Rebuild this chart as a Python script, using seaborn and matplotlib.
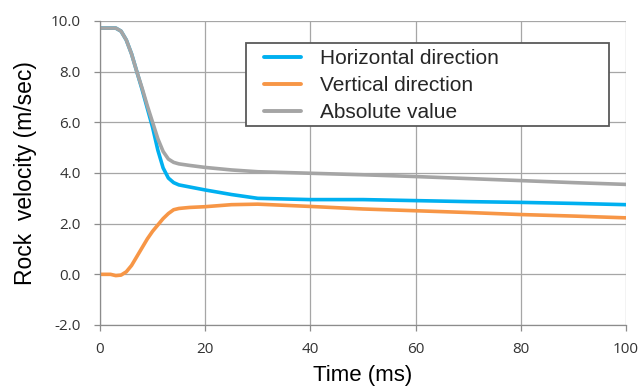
import matplotlib
matplotlib.use("Agg")
import matplotlib.pyplot as plt
from matplotlib.patches import Rectangle
import seaborn as sns
import pandas as pd

time_ms = [0, 2, 3, 4, 5, 6, 7, 8, 9, 10, 11, 12, 13, 14, 15, 17, 20, 25, 30, 40, 50, 60, 70, 80, 90, 100]
horizontal = [9.72, 9.72, 9.72, 9.6, 9.25, 8.7, 8.0, 7.3, 6.55, 5.8, 4.9, 4.2, 3.8, 3.62, 3.53, 3.45, 3.33, 3.15, 3.0, 2.95, 2.95, 2.91, 2.87, 2.84, 2.8, 2.75]
vertical = [0.0, 0.0, -0.05, -0.03, 0.1, 0.35, 0.7, 1.05, 1.4, 1.7, 1.95, 2.2, 2.4, 2.55, 2.6, 2.64, 2.67, 2.75, 2.77, 2.68, 2.58, 2.51, 2.44, 2.36, 2.3, 2.23]
absolute = [9.72, 9.72, 9.72, 9.6, 9.25, 8.7, 8.0, 7.35, 6.65, 6.0, 5.35, 4.85, 4.55, 4.42, 4.36, 4.3, 4.22, 4.12, 4.05, 3.99, 3.93, 3.86, 3.78, 3.70, 3.62, 3.55]
series_names = ["Horizontal direction", "Vertical direction", "Absolute value"]
colors = ["#00B0F0", "#F79646", "#A5A5A5"]
x_ticks = [0, 20, 40, 60, 80, 100]
y_ticks = [-2.0, 0.0, 2.0, 4.0, 6.0, 8.0, 10.0]

df = pd.concat([
    pd.DataFrame({"t": time_ms, "v": vals, "series": name})
    for name, vals in zip(series_names, [horizontal, vertical, absolute])
], ignore_index=True)

sns.set_theme(style="white")
plt.rcParams["font.family"] = ["Liberation Sans", "DejaVu Sans"]

W, H = 638, 390
fig = plt.figure(figsize=(W / 100, H / 100), dpi=100)
ax = fig.add_axes([100 / W, 1 - 325 / H, 526 / W, 304 / H])

sns.lineplot(data=df, x="t", y="v", hue="series", hue_order=series_names,
             palette=colors, linewidth=2.6, ax=ax, legend=True)

ax.set_xlim(0, 100)
ax.set_ylim(-2, 10)
ax.set_xticks(x_ticks)
ax.set_yticks(y_ticks)
ax.set_xticklabels([str(v) for v in x_ticks], fontfamily="Open Sans", fontsize=11, color="#333333")
ax.set_yticklabels([f"{v:.1f}" for v in y_ticks], fontfamily="Open Sans", fontsize=11, color="#333333")
ax.grid(True, color="#a6a6a6", linewidth=0.9)
ax.set_axisbelow(True)
for s in ["top", "right"]:
    ax.spines[s].set_visible(False)
for s in ["left", "bottom"]:
    ax.spines[s].set_color("#8c8c8c")
    ax.spines[s].set_linewidth(0.9)
ax.tick_params(axis="both", which="both", direction="out", length=4, width=0.9,
               color="#8c8c8c", left=True, bottom=True)
ax.tick_params(axis="x", pad=8)
ax.tick_params(axis="y", pad=10)

ax.set_xlabel("Time (ms)", fontsize=16, color="black", labelpad=6)
ax.set_ylabel("Rock  velocity (m/sec)", fontsize=16.5, color="black", labelpad=10)

# legend box
box = Rectangle((246 / W, 1 - 126 / H), 363 / W, 83 / H, transform=fig.transFigure,
                facecolor="white", edgecolor="#595959", linewidth=1.3, zorder=4)
ax.add_patch(box)

handles, labels = ax.get_legend_handles_labels()
leg = ax.legend(handles, labels, loc="upper left",
                bbox_to_anchor=(264 / W, 1 - 49.5 / H), bbox_transform=fig.transFigure,
                borderaxespad=0, borderpad=0, frameon=False, fontsize=15,
                handlelength=1.78, handletextpad=0.9, labelspacing=0.37)
leg.set_zorder(6)
for line in leg.get_lines():
    line.set_linewidth(2.8)

fig.savefig("out.png", dpi=100)
